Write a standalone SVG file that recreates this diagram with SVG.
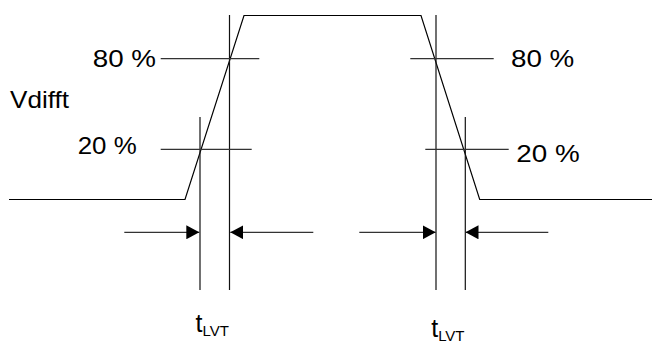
<svg xmlns="http://www.w3.org/2000/svg" width="652" height="345" viewBox="0 0 652 345">
<style>
.w{fill:none;stroke:#000;stroke-width:1.2}
.v{fill:none;stroke:#111;stroke-width:1.2}
.h{fill:none;stroke:#333;stroke-width:1.2}
.a{fill:none;stroke:#333;stroke-width:1.2}
text{font-family:"Liberation Sans",Arial,sans-serif;fill:#000}
.lb{font-size:24px}
.t{font-size:25px}
.s{font-size:15px}
</style>
<defs>
<marker id="ah" markerWidth="14" markerHeight="14" refX="13" refY="7" orient="auto" markerUnits="userSpaceOnUse">
<path d="M0,0 L13,7 L0,14 Z" fill="#000"/>
</marker>
</defs>
<rect width="652" height="345" fill="#fff"/>
<g id="waveform">
<polyline class="w" points="9,199.5 185,199.5 244,15.5 421,15.5 479.7,199.5 652,199.5"/>
</g>
<g id="connectors">
<line class="v" x1="229.5" y1="15" x2="229.5" y2="290"/>
<line class="v" x1="200" y1="117" x2="200" y2="290"/>
<line class="v" x1="436" y1="15" x2="436" y2="290"/>
<line class="v" x1="465.3" y1="117" x2="465.3" y2="290" stroke="#555"/>
<line class="h" x1="160.7" y1="58.7" x2="259.3" y2="58.7"/>
<line class="h" x1="160.7" y1="149.3" x2="251.7" y2="149.3"/>
<line class="h" x1="410.3" y1="58.7" x2="493.7" y2="58.7"/>
<line class="h" x1="425.3" y1="149.3" x2="508.7" y2="149.3"/>
<line class="a" x1="124.3" y1="232.3" x2="199.3" y2="232.3" marker-end="url(#ah)"/>
<line class="a" x1="313.3" y1="232.3" x2="230.3" y2="232.3" marker-end="url(#ah)"/>
<line class="a" x1="359.3" y1="232.3" x2="435.7" y2="232.3" marker-end="url(#ah)"/>
<line class="a" x1="548.3" y1="232.3" x2="465.5" y2="232.3" marker-end="url(#ah)"/>
</g>
<g id="labels">
<text class="lb" x="92.7" y="66.7" textLength="63.3" lengthAdjust="spacingAndGlyphs">80 %</text>
<text class="lb" x="77.7" y="154.3" textLength="59" lengthAdjust="spacingAndGlyphs">20 %</text>
<text class="lb" x="10" y="108.3" textLength="59" lengthAdjust="spacingAndGlyphs">Vdifft</text>
<text class="lb" x="511" y="66.7" textLength="63.3" lengthAdjust="spacingAndGlyphs">80 %</text>
<text class="lb" x="516.3" y="161.7" textLength="63.4" lengthAdjust="spacingAndGlyphs">20 %</text>
<text class="t" x="195.5" y="331.7">t<tspan class="s" dy="4">LVT</tspan></text>
<text class="t" x="431.2" y="336.7">t<tspan class="s" dy="4">LVT</tspan></text>
</g>
</svg>
